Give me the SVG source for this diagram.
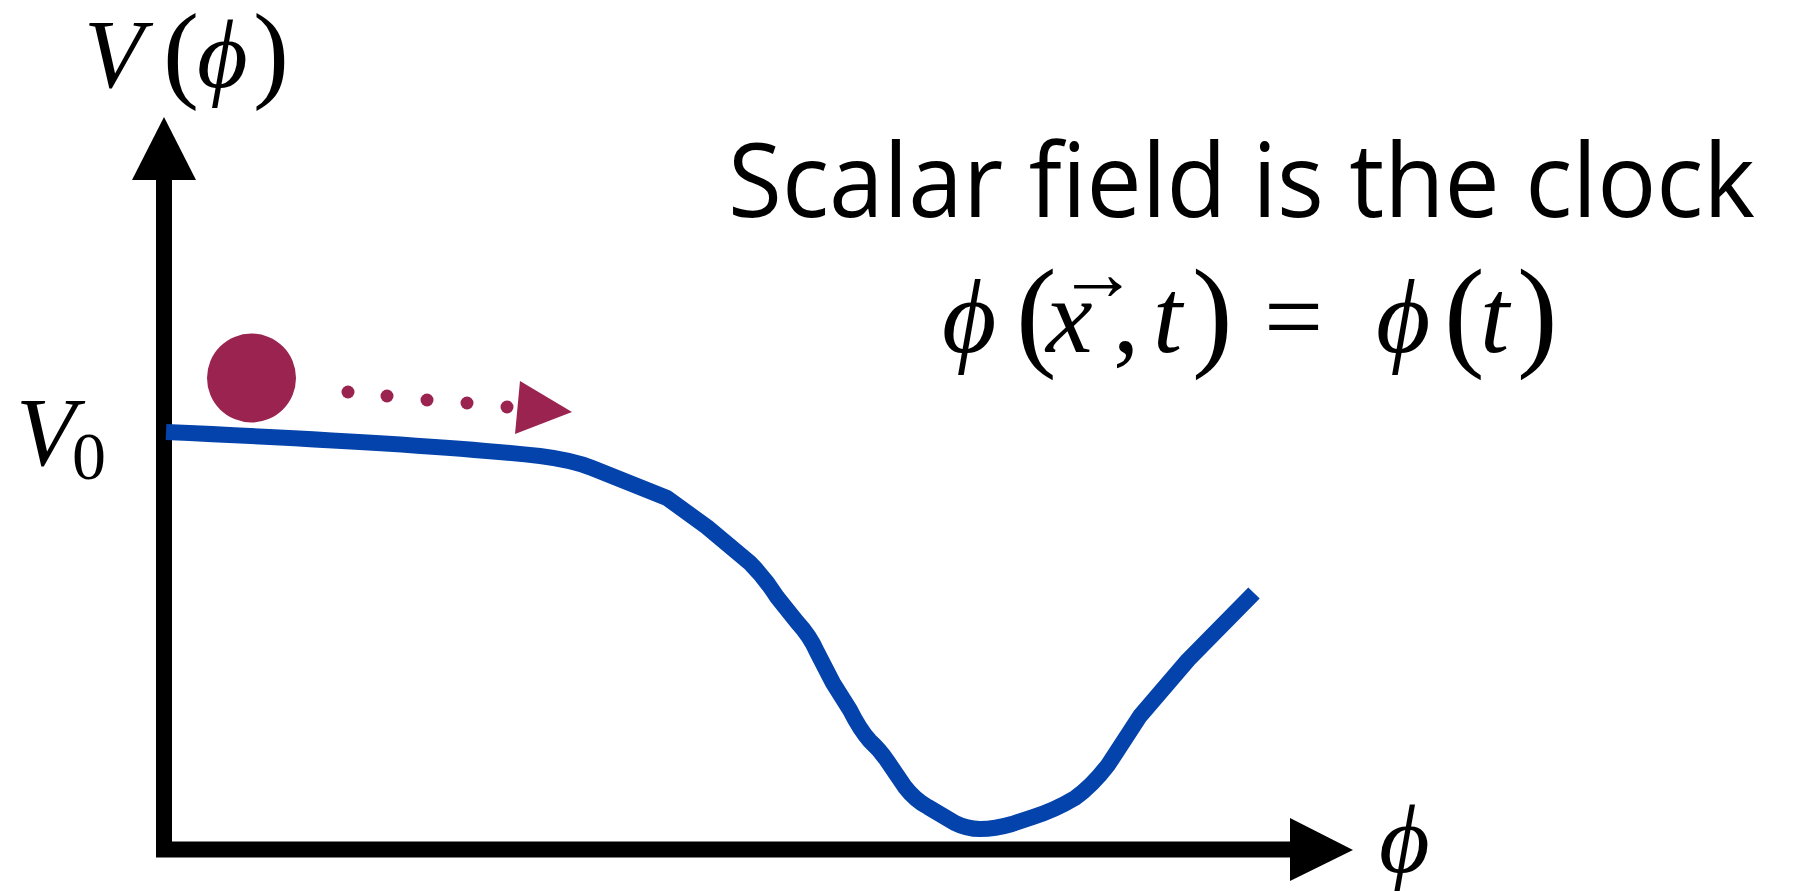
<svg xmlns="http://www.w3.org/2000/svg" width="1793" height="891" viewBox="0 0 1793 891">
<style>
.axis{stroke:#000;stroke-width:16;fill:none}
.head{fill:#000}
.math{font-family:"Liberation Serif","DejaVu Serif",serif;font-style:italic;fill:#000}
.rm{font-family:"Liberation Serif","DejaVu Serif",serif;font-style:normal;fill:#000}
.maroon{fill:#9B2350}
.title{font-family:"Open Sans","Noto Sans","Liberation Sans",sans-serif;font-weight:normal;fill:#000}
</style>
<rect width="1793" height="891" fill="#fff"/>
<g id="axes">
  <path class="axis" d="M164,180 V857 M156,849.5 H1292"/>
  <polygon class="head" points="164,117 196,180 132,180"/>
  <polygon class="head" points="1353,850 1290,881 1290,818"/>
</g>
<g id="potential">
  <path d="M166,432 C300,438 450,446 540,456 Q572,460 592,468 L667,498 L707,527 L750,563 Q765,578 777,597 L797,622 Q810,636 817,652 L833,683 L850,710 Q860,730 870,741 Q880,750 888,762 L905,787 Q915,800 928,807 L955,823 Q967,829 980,829 Q995,829 1012,824 L1033,817 Q1055,810 1075,798 Q1092,786 1108,765 L1140,716 L1188,660 L1254,593" fill="none" stroke="#0443AB" stroke-width="16" stroke-linejoin="round"/>
</g>
<g id="ball">
  <circle class="maroon" cx="251.5" cy="378" r="44.5"/>
</g>
<g id="motion">
  <circle class="maroon" cx="348" cy="392" r="6.5"/>
  <circle class="maroon" cx="387" cy="396" r="6.5"/>
  <circle class="maroon" cx="427" cy="400" r="6.5"/>
  <circle class="maroon" cx="467" cy="403" r="6.5"/>
  <circle class="maroon" cx="507" cy="407" r="6.5"/>
  <polygon class="maroon" points="520,381 572,412 515,434"/>
</g>
<g id="label-V">
  <text class="math" x="84" y="87" font-size="98">V</text>
  <text class="rm" x="163" y="88" font-size="108">(</text>
  <text class="math" x="197" y="87" font-size="98">ϕ</text>
  <text class="rm" x="253" y="88" font-size="108">)</text>
</g>
<g id="label-V0">
  <text class="math" x="16" y="465" font-size="98">V</text>
  <text class="rm" x="72" y="479" font-size="68">0</text>
</g>
<g id="label-phi">
  <text class="math" x="1379" y="872" font-size="98">ϕ</text>
</g>
<g id="title">
  <text class="title" x="728" y="217" font-size="103" textLength="1027" lengthAdjust="spacingAndGlyphs">Scalar field is the clock</text>
</g>
<g id="equation">
  <text class="math" x="942" y="352" font-size="105">ϕ</text>
  <text class="rm" x="1016" y="354" font-size="122">(</text>
  <text class="math" x="1046" y="352" font-size="105">x</text>
  <text class="rm" x="1058" y="300" font-size="80">→</text>
  <text class="rm" x="1113" y="352" font-size="105">,</text>
  <text class="math" x="1153" y="352" font-size="105">t</text>
  <text class="rm" x="1192" y="354" font-size="122">)</text>
  <text class="rm" x="1264" y="352" font-size="105">=</text>
  <text class="math" x="1376" y="352" font-size="105">ϕ</text>
  <text class="rm" x="1444" y="354" font-size="122">(</text>
  <text class="math" x="1480" y="352" font-size="105">t</text>
  <text class="rm" x="1517" y="354" font-size="122">)</text>
</g>
</svg>
